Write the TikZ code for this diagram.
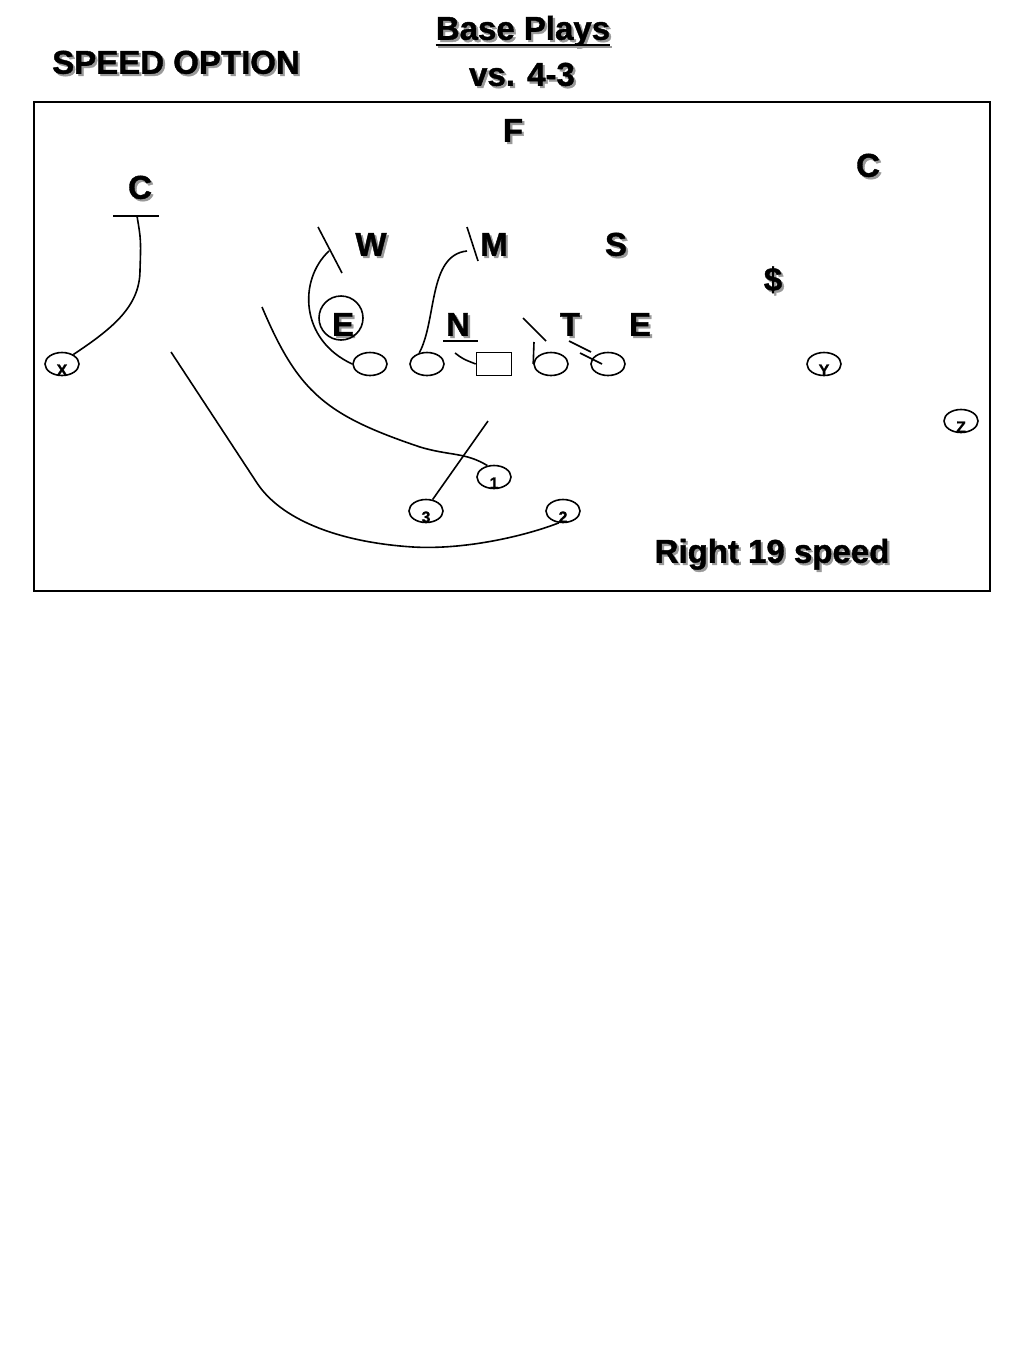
\documentclass[tikz,border=0pt]{standalone}
\usepackage{fontspec}
\setmainfont{Liberation Sans}
\newfontfamily\heavyfont{Liberation Sans Bold}[FakeBold=1.2]
\usetikzlibrary{shapes.geometric}
\newcommand{\shadowtext}[3]{
  \node[bigtext, text=black!40, xshift=2.2pt, yshift=-2.2pt] at (#2) {#3};
  \node[bigtext] (#1) at (#2) {#3};
}
\newcommand{\skillman}[3]{
  \node[man] (#1) at (#2) {};
  \node[skilltag] (#1num) at (#1.south) {#3};
}
\tikzset{
  bigtext/.style  = {font=\fontsize{33}{38}\selectfont\heavyfont,
                     inner sep=0pt, text height=23.5pt, text depth=0pt},
  man/.style      = {draw, ellipse, line width=1.6pt, inner sep=0pt,
                     minimum width=34pt, minimum height=23pt},
  skilltag/.style = {font=\fontsize{16}{17}\selectfont\heavyfont,
                     anchor=south, inner sep=0pt, text depth=0pt, yshift=0.5pt},
  route/.style    = {line width=1.6pt}
}

\begin{document}
\begin{tikzpicture}[x=1pt, y=-1pt]
  \fill[white] (0,0) rectangle (1024,1365);
  \useasboundingbox (0,0) rectangle (1024,1365);
  % headings
  \shadowtext{title}{523,28}{Base Plays}
  \shadowtext{versus}{522,74}{vs. 4-3}
  \shadowtext{play}{176,62}{SPEED OPTION}
  \draw[line width=2pt, black!40] ([shift={(2pt,-7pt)}]title.south west) -- ([shift={(2pt,-7pt)}]title.south east);
  \draw[line width=2pt] ([yshift=-5pt]title.south west) -- ([yshift=-5pt]title.south east);
  \draw[line width=1.8pt] (34,102) rectangle (990,591);
  % defense
  \shadowtext{F}{513,130}{F}
  \shadowtext{Cr}{868,165}{C}
  \shadowtext{Cl}{140,187}{C}
  \shadowtext{W}{371,244}{W}
  \shadowtext{M}{494,244}{M}
  \shadowtext{S}{616,244}{S}
  \shadowtext{Dollar}{773,279}{\$}
  \shadowtext{El}{343,324}{E}
  \shadowtext{N}{458,324}{N}
  \shadowtext{T}{570,324}{T}
  \shadowtext{Er}{640,324}{E}
  \draw[route] (341,318) circle [radius=22pt];
  \draw[route] (443,341) -- (478,341);
  % offense
  \node[man] (LT) at (370,364) {};
  \node[man] (LG) at (427,364) {};
  \node[draw, line width=1.6pt, minimum width=35pt, minimum height=23pt] (Ctr) at (494,364) {};
  \node[man] (RG) at (551,364) {};
  \node[man] (RT) at (608,364) {};
  \skillman{X}{62,364}{X}
  \skillman{Y}{824,364}{Y}
  \skillman{Z}{961,421}{Z}
  \skillman{B1}{494,477}{1}
  \skillman{B3}{426,511}{3}
  \skillman{B2}{563,511}{2}
  % routes and blocks
  \coordinate (xend) at (137,216);
  \draw[route] (X.40) .. controls (115,327) and (140,305) .. (140,270)
    .. controls (141,240) .. (xend);
  \draw[route] ([xshift=-24pt]xend) -- ([xshift=22pt]xend);
  \draw[route] (LT.west) .. controls (300,340) and (298,280) .. (329,251);
  \draw[route] (318,227) -- (342,273);
  \draw[route] (LG.125) .. controls (437,320) and (428,255) .. (467,251);
  \draw[route] (467,227) -- (478,261);
  \draw[route] (455,353) .. controls (463,359) .. (Ctr.west);
  \draw[route] (RG.west) -- (534,342);
  \draw[route] (523,318) -- (546,341);
  \draw[route] (569,341) -- (591,352);
  \draw[route] (580,353) -- (602,364);
  \draw[route] (262,307) .. controls (298,392) and (325,415) .. (420,447)
    .. controls (450,456) and (465,452) .. (B1.120);
  \draw[route] (488,421) -- (B3.60);
  \draw[route] (171,352) -- (257,483) .. controls (280,518) and (335,542) .. (413,547)
    .. controls (465,550) and (525,536) .. (B2.250);
  \shadowtext{call}{772,551}{Right 19 speed}
\end{tikzpicture}
\end{document}
